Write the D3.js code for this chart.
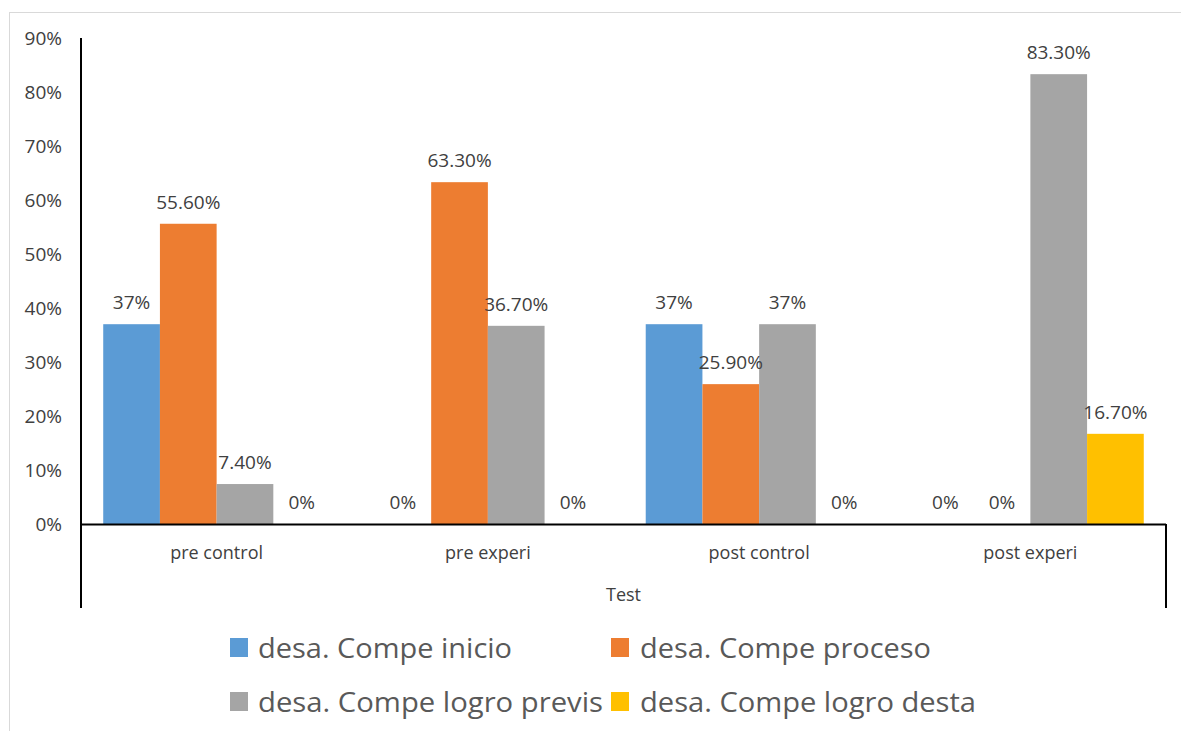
<!DOCTYPE html>
<html>
<head>
<meta charset="utf-8">
<script src="https://cdn.jsdelivr.net/npm/d3@7/dist/d3.min.js"></script>
<style>
  html, body { margin: 0; padding: 0; background: #fff; }
  svg { display: block; font-family: "Open Sans", "DejaVu Sans", sans-serif; }
</style>
</head>
<body>
<svg id="chart" width="1181" height="731"></svg>
<script>
const categories = ["pre control", "pre experi", "post control", "post experi"];
const seriesNames = ["desa. Compe inicio", "desa. Compe proceso", "desa. Compe logro previs", "desa. Compe logro desta"];
const inicio  = [0.37, 0.0, 0.37, 0.0];
const proceso = [0.556, 0.633, 0.259, 0.0];
const previs  = [0.074, 0.367, 0.37, 0.833];
const desta   = [0.0, 0.0, 0.0, 0.167];
const yTicks = [0, 0.1, 0.2, 0.3, 0.4, 0.5, 0.6, 0.7, 0.8, 0.9];
const axisTitle = "Test";
const colors = ["#5B9BD5", "#ED7D31", "#A5A5A5", "#FFC000"];

const seriesValues = [inicio, proceso, previs, desta];

const svg = d3.select("#chart");
const plotLeft = 81, plotRight = 1166, plotTop = 38, plotBottom = 524, axisBottom = 608;

// chart border
svg.append("rect").attr("x", 9.5).attr("y", 12.5).attr("width", 1300).attr("height", 900)
  .attr("fill", "none").attr("stroke", "#d9d9d9").attr("stroke-width", 1);

const y = d3.scaleLinear().domain([0, 0.9]).range([plotBottom, plotTop]);
const x0 = d3.scaleBand().domain(categories).range([plotLeft, plotRight]).paddingInner(0).paddingOuter(0);
const gapRatio = 0.784;
const bw = x0.bandwidth() / (seriesNames.length + gapRatio);
const x1 = d3.scaleBand().domain(seriesNames)
  .range([bw * gapRatio / 2, x0.bandwidth() - bw * gapRatio / 2]).padding(0);

// y axis labels
const yAxis = d3.axisLeft(y).tickValues(yTicks).tickFormat(d => Math.round(d * 100) + "%").tickSize(0).tickPadding(19);
const gy = svg.append("g").attr("transform", `translate(${plotLeft},0)`).call(yAxis);
gy.select(".domain").remove();
gy.selectAll("text").attr("fill", "#404040").style("font-size", "19px")
  .style("font-family", '"Open Sans", sans-serif');

const fmt = v => {
  const p = Math.round(v * 1000) / 10;
  return Number.isInteger(p) ? p + "%" : p.toFixed(2) + "%";
};

// bars
const data = [];
categories.forEach((c, ci) => {
  seriesNames.forEach((s, si) => {
    data.push({ c, s, v: seriesValues[si][ci], color: colors[si] });
  });
});

svg.append("g").selectAll("rect").data(data).join("rect")
  .attr("x", d => x0(d.c) + x1(d.s))
  .attr("width", x1.bandwidth())
  .attr("y", d => y(d.v))
  .attr("height", d => plotBottom - y(d.v))
  .attr("fill", d => d.color);

// data labels
svg.append("g").selectAll("text").data(data).join("text")
  .attr("x", d => x0(d.c) + x1(d.s) + x1.bandwidth() / 2)
  .attr("y", d => y(d.v) - 15)
  .attr("text-anchor", "middle")
  .attr("fill", "#404040")
  .style("font-size", "19px")
  .text(d => fmt(d.v));

// axes lines
svg.append("line").attr("x1", plotLeft).attr("x2", plotLeft).attr("y1", plotTop).attr("y2", axisBottom)
  .attr("stroke", "#000").attr("stroke-width", 2);
svg.append("line").attr("x1", plotLeft).attr("x2", plotRight).attr("y1", plotBottom + 0.5).attr("y2", plotBottom + 0.5)
  .attr("stroke", "#000").attr("stroke-width", 2);
svg.append("line").attr("x1", plotRight).attr("x2", plotRight).attr("y1", plotBottom).attr("y2", axisBottom)
  .attr("stroke", "#000").attr("stroke-width", 2);

// category labels
svg.append("g").selectAll("text").data(categories).join("text")
  .attr("x", d => x0(d) + x0.bandwidth() / 2)
  .attr("y", 559)
  .attr("text-anchor", "middle")
  .attr("fill", "#404040")
  .style("font-size", "18px")
  .text(d => d);

svg.append("text").attr("x", (plotLeft + plotRight) / 2).attr("y", 601).attr("text-anchor", "middle")
  .attr("fill", "#404040").style("font-size", "18px").text(axisTitle);

// legend
const legendPos = [
  { sx: 230, tx: 258, base: 658, w: 254 },
  { sx: 611, tx: 640, base: 658, w: 291 },
  { sx: 230, tx: 258, base: 712, w: 345 },
  { sx: 611, tx: 640, base: 712, w: 336 }
];
const lg = svg.append("g");
seriesNames.forEach((s, i) => {
  const p = legendPos[i];
  lg.append("rect").attr("x", p.sx).attr("y", p.base - 20).attr("width", 18).attr("height", 19).attr("fill", colors[i]);
  lg.append("text").attr("x", p.tx).attr("y", p.base)
    .attr("fill", "#595959").style("font-size", "27px")
    .attr("textLength", p.w).attr("lengthAdjust", "spacingAndGlyphs")
    .text(s);
});
</script>
</body>
</html>
